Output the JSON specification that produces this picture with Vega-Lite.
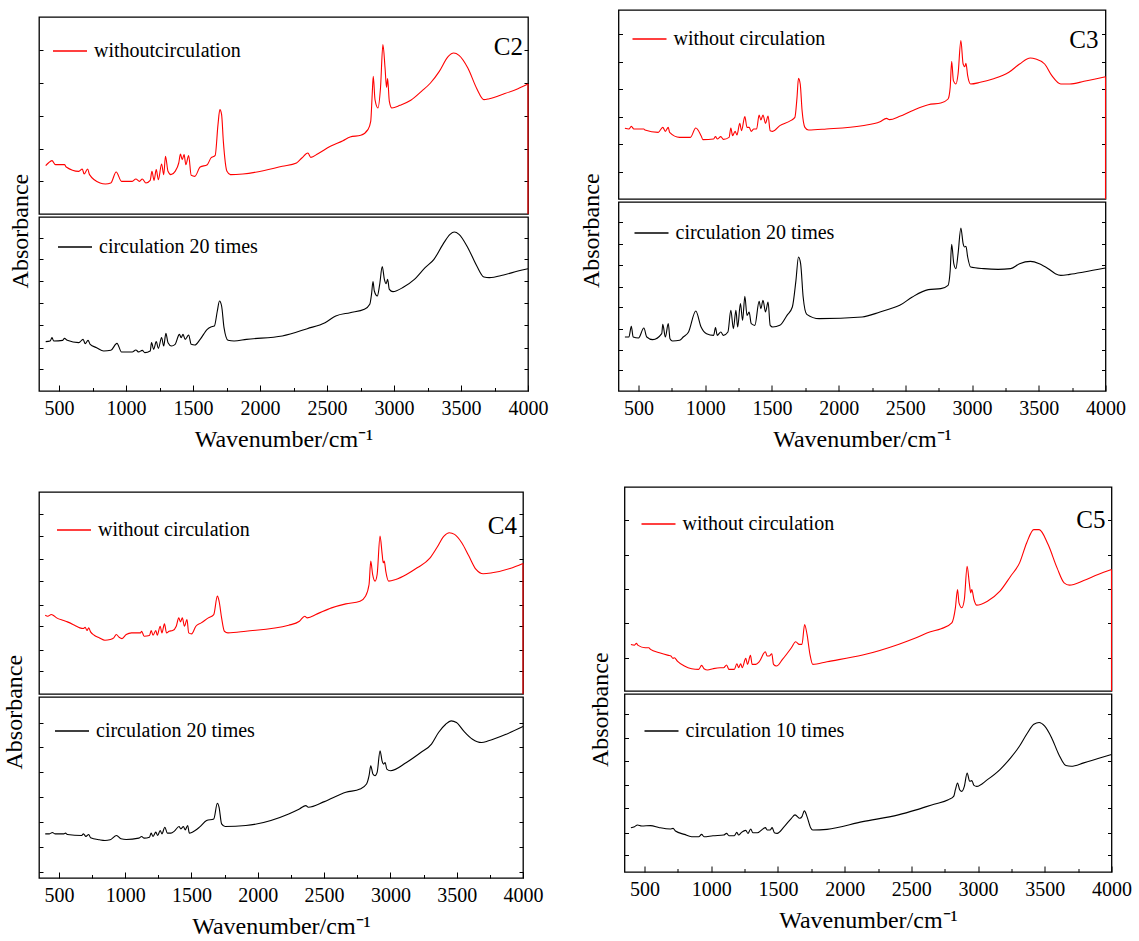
{
  "$schema": "https://vega.github.io/schema/vega-lite/v6.json",
  "background": "white",
  "padding": {"left": 3, "top": 9, "right": 0, "bottom": 0},
  "columns": 1,
  "align": "none",
  "spacing": 32,
  "resolve": {"scale": {"x": "independent", "y": "independent", "color": "independent"}, "legend": {"color": "independent"}, "axis": {"x": "independent", "y": "independent"}},
  "datasets": {
    "c2r": [{"x":400,"y":0.145},{"x":420,"y":0.153},{"x":447,"y":0.160},{"x":473,"y":0.148},{"x":540,"y":0.148},{"x":553,"y":0.141},{"x":647,"y":0.128},{"x":673,"y":0.135},{"x":687,"y":0.120},{"x":713,"y":0.135},{"x":727,"y":0.118},{"x":806,"y":0.093},{"x":846,"y":0.090},{"x":886,"y":0.093},{"x":926,"y":0.126},{"x":966,"y":0.098},{"x":1046,"y":0.098},{"x":1073,"y":0.105},{"x":1100,"y":0.098},{"x":1121,"y":0.105},{"x":1148,"y":0.093},{"x":1180,"y":0.101},{"x":1193,"y":0.128},{"x":1209,"y":0.101},{"x":1225,"y":0.133},{"x":1241,"y":0.103},{"x":1265,"y":0.150},{"x":1281,"y":0.118},{"x":1294,"y":0.173},{"x":1313,"y":0.128},{"x":1334,"y":0.118},{"x":1366,"y":0.128},{"x":1393,"y":0.153},{"x":1406,"y":0.180},{"x":1419,"y":0.163},{"x":1433,"y":0.178},{"x":1446,"y":0.148},{"x":1467,"y":0.175},{"x":1486,"y":0.116},{"x":1513,"y":0.113},{"x":1553,"y":0.141},{"x":1606,"y":0.148},{"x":1633,"y":0.168},{"x":1665,"y":0.176},{"x":1686,"y":0.268},{"x":1700,"y":0.313},{"x":1713,"y":0.298},{"x":1726,"y":0.218},{"x":1753,"y":0.128},{"x":1779,"y":0.118},{"x":1872,"y":0.120},{"x":2166,"y":0.143},{"x":2272,"y":0.153},{"x":2312,"y":0.168},{"x":2357,"y":0.183},{"x":2379,"y":0.170},{"x":2432,"y":0.181},{"x":2525,"y":0.203},{"x":2619,"y":0.220},{"x":2672,"y":0.231},{"x":2752,"y":0.236},{"x":2805,"y":0.253},{"x":2826,"y":0.278},{"x":2837,"y":0.358},{"x":2845,"y":0.413},{"x":2858,"y":0.343},{"x":2880,"y":0.318},{"x":2899,"y":0.378},{"x":2917,"y":0.508},{"x":2933,"y":0.438},{"x":2944,"y":0.380},{"x":2952,"y":0.406},{"x":2965,"y":0.338},{"x":2984,"y":0.318},{"x":3045,"y":0.326},{"x":3125,"y":0.341},{"x":3205,"y":0.368},{"x":3272,"y":0.393},{"x":3338,"y":0.428},{"x":3405,"y":0.473},{"x":3445,"y":0.483},{"x":3485,"y":0.476},{"x":3551,"y":0.438},{"x":3618,"y":0.376},{"x":3671,"y":0.343},{"x":3711,"y":0.346},{"x":3818,"y":0.360},{"x":3925,"y":0.376},{"x":4000,"y":0.390}],
    "c2b": [{"x":400,"y":0.148},{"x":433,"y":0.150},{"x":447,"y":0.160},{"x":460,"y":0.150},{"x":527,"y":0.152},{"x":540,"y":0.158},{"x":561,"y":0.152},{"x":647,"y":0.145},{"x":679,"y":0.155},{"x":695,"y":0.142},{"x":716,"y":0.152},{"x":732,"y":0.140},{"x":780,"y":0.130},{"x":833,"y":0.120},{"x":886,"y":0.122},{"x":932,"y":0.143},{"x":966,"y":0.117},{"x":1046,"y":0.117},{"x":1073,"y":0.123},{"x":1094,"y":0.117},{"x":1121,"y":0.122},{"x":1140,"y":0.115},{"x":1180,"y":0.120},{"x":1190,"y":0.145},{"x":1206,"y":0.125},{"x":1225,"y":0.148},{"x":1241,"y":0.128},{"x":1265,"y":0.160},{"x":1281,"y":0.135},{"x":1297,"y":0.173},{"x":1313,"y":0.145},{"x":1339,"y":0.135},{"x":1366,"y":0.140},{"x":1398,"y":0.170},{"x":1411,"y":0.160},{"x":1425,"y":0.170},{"x":1441,"y":0.155},{"x":1467,"y":0.168},{"x":1486,"y":0.140},{"x":1513,"y":0.138},{"x":1553,"y":0.155},{"x":1606,"y":0.185},{"x":1633,"y":0.192},{"x":1659,"y":0.195},{"x":1681,"y":0.240},{"x":1697,"y":0.270},{"x":1713,"y":0.255},{"x":1731,"y":0.190},{"x":1761,"y":0.152},{"x":1806,"y":0.150},{"x":1899,"y":0.155},{"x":2166,"y":0.165},{"x":2352,"y":0.187},{"x":2485,"y":0.205},{"x":2565,"y":0.225},{"x":2672,"y":0.235},{"x":2779,"y":0.245},{"x":2819,"y":0.260},{"x":2832,"y":0.290},{"x":2843,"y":0.328},{"x":2853,"y":0.300},{"x":2875,"y":0.285},{"x":2893,"y":0.320},{"x":2912,"y":0.373},{"x":2928,"y":0.335},{"x":2941,"y":0.322},{"x":2952,"y":0.335},{"x":2965,"y":0.305},{"x":2992,"y":0.298},{"x":3072,"y":0.312},{"x":3152,"y":0.335},{"x":3232,"y":0.370},{"x":3298,"y":0.395},{"x":3365,"y":0.440},{"x":3418,"y":0.470},{"x":3450,"y":0.477},{"x":3485,"y":0.470},{"x":3551,"y":0.430},{"x":3618,"y":0.375},{"x":3671,"y":0.342},{"x":3711,"y":0.340},{"x":3818,"y":0.348},{"x":3925,"y":0.360},{"x":4000,"y":0.367}],
    "c3r": [{"x":398,"y":0.212},{"x":428,"y":0.210},{"x":446,"y":0.218},{"x":465,"y":0.210},{"x":540,"y":0.210},{"x":548,"y":0.207},{"x":648,"y":0.200},{"x":682,"y":0.215},{"x":701,"y":0.203},{"x":723,"y":0.215},{"x":733,"y":0.200},{"x":808,"y":0.185},{"x":889,"y":0.185},{"x":929,"y":0.213},{"x":969,"y":0.190},{"x":983,"y":0.178},{"x":1063,"y":0.180},{"x":1077,"y":0.187},{"x":1090,"y":0.180},{"x":1117,"y":0.187},{"x":1136,"y":0.179},{"x":1179,"y":0.185},{"x":1192,"y":0.213},{"x":1205,"y":0.190},{"x":1224,"y":0.203},{"x":1238,"y":0.192},{"x":1259,"y":0.227},{"x":1272,"y":0.205},{"x":1297,"y":0.247},{"x":1313,"y":0.215},{"x":1329,"y":0.215},{"x":1345,"y":0.203},{"x":1364,"y":0.210},{"x":1385,"y":0.210},{"x":1404,"y":0.252},{"x":1417,"y":0.237},{"x":1433,"y":0.252},{"x":1452,"y":0.227},{"x":1471,"y":0.249},{"x":1487,"y":0.205},{"x":1506,"y":0.203},{"x":1559,"y":0.220},{"x":1640,"y":0.235},{"x":1672,"y":0.245},{"x":1688,"y":0.305},{"x":1699,"y":0.362},{"x":1712,"y":0.345},{"x":1726,"y":0.265},{"x":1747,"y":0.215},{"x":1774,"y":0.207},{"x":1908,"y":0.210},{"x":2176,"y":0.220},{"x":2310,"y":0.232},{"x":2359,"y":0.242},{"x":2380,"y":0.238},{"x":2458,"y":0.248},{"x":2552,"y":0.265},{"x":2672,"y":0.283},{"x":2766,"y":0.288},{"x":2820,"y":0.300},{"x":2836,"y":0.335},{"x":2847,"y":0.413},{"x":2860,"y":0.355},{"x":2879,"y":0.345},{"x":2895,"y":0.375},{"x":2916,"y":0.475},{"x":2933,"y":0.405},{"x":2946,"y":0.397},{"x":2954,"y":0.407},{"x":2967,"y":0.370},{"x":2989,"y":0.345},{"x":3061,"y":0.350},{"x":3155,"y":0.360},{"x":3276,"y":0.380},{"x":3356,"y":0.405},{"x":3437,"y":0.423},{"x":3477,"y":0.420},{"x":3544,"y":0.405},{"x":3598,"y":0.370},{"x":3665,"y":0.345},{"x":3732,"y":0.345},{"x":3839,"y":0.353},{"x":4000,"y":0.367}],
    "c3b": [{"x":398,"y":0.162},{"x":428,"y":0.162},{"x":446,"y":0.194},{"x":460,"y":0.162},{"x":500,"y":0.159},{"x":540,"y":0.189},{"x":562,"y":0.162},{"x":607,"y":0.154},{"x":674,"y":0.172},{"x":682,"y":0.200},{"x":701,"y":0.162},{"x":723,"y":0.202},{"x":736,"y":0.157},{"x":755,"y":0.150},{"x":808,"y":0.152},{"x":835,"y":0.162},{"x":875,"y":0.177},{"x":929,"y":0.240},{"x":969,"y":0.192},{"x":1010,"y":0.172},{"x":1063,"y":0.167},{"x":1077,"y":0.190},{"x":1090,"y":0.167},{"x":1117,"y":0.177},{"x":1136,"y":0.167},{"x":1170,"y":0.177},{"x":1192,"y":0.242},{"x":1211,"y":0.187},{"x":1230,"y":0.242},{"x":1243,"y":0.192},{"x":1264,"y":0.262},{"x":1280,"y":0.212},{"x":1297,"y":0.284},{"x":1313,"y":0.227},{"x":1329,"y":0.237},{"x":1345,"y":0.202},{"x":1372,"y":0.197},{"x":1404,"y":0.269},{"x":1417,"y":0.247},{"x":1433,"y":0.272},{"x":1452,"y":0.237},{"x":1471,"y":0.267},{"x":1487,"y":0.197},{"x":1506,"y":0.192},{"x":1559,"y":0.197},{"x":1613,"y":0.227},{"x":1653,"y":0.252},{"x":1680,"y":0.332},{"x":1699,"y":0.402},{"x":1715,"y":0.382},{"x":1734,"y":0.282},{"x":1761,"y":0.230},{"x":1854,"y":0.217},{"x":2176,"y":0.222},{"x":2310,"y":0.237},{"x":2364,"y":0.244},{"x":2458,"y":0.257},{"x":2552,"y":0.282},{"x":2672,"y":0.304},{"x":2766,"y":0.307},{"x":2820,"y":0.317},{"x":2836,"y":0.362},{"x":2847,"y":0.440},{"x":2863,"y":0.382},{"x":2879,"y":0.367},{"x":2895,"y":0.412},{"x":2916,"y":0.489},{"x":2933,"y":0.442},{"x":2943,"y":0.432},{"x":2954,"y":0.434},{"x":2967,"y":0.402},{"x":2989,"y":0.372},{"x":3088,"y":0.367},{"x":3195,"y":0.365},{"x":3289,"y":0.367},{"x":3356,"y":0.382},{"x":3437,"y":0.389},{"x":3504,"y":0.382},{"x":3571,"y":0.367},{"x":3624,"y":0.352},{"x":3665,"y":0.347},{"x":3732,"y":0.350},{"x":3839,"y":0.357},{"x":4000,"y":0.369}],
    "c4r": [{"x":397,"y":0.236},{"x":416,"y":0.233},{"x":443,"y":0.238},{"x":456,"y":0.236},{"x":483,"y":0.228},{"x":537,"y":0.220},{"x":564,"y":0.216},{"x":618,"y":0.206},{"x":658,"y":0.198},{"x":685,"y":0.196},{"x":698,"y":0.200},{"x":712,"y":0.190},{"x":725,"y":0.198},{"x":739,"y":0.186},{"x":766,"y":0.176},{"x":806,"y":0.168},{"x":847,"y":0.161},{"x":887,"y":0.163},{"x":914,"y":0.168},{"x":933,"y":0.178},{"x":954,"y":0.170},{"x":976,"y":0.166},{"x":1008,"y":0.178},{"x":1048,"y":0.183},{"x":1116,"y":0.183},{"x":1124,"y":0.188},{"x":1143,"y":0.173},{"x":1183,"y":0.175},{"x":1196,"y":0.190},{"x":1210,"y":0.176},{"x":1231,"y":0.190},{"x":1242,"y":0.176},{"x":1264,"y":0.203},{"x":1277,"y":0.183},{"x":1296,"y":0.210},{"x":1312,"y":0.183},{"x":1331,"y":0.188},{"x":1358,"y":0.190},{"x":1385,"y":0.203},{"x":1404,"y":0.228},{"x":1417,"y":0.216},{"x":1431,"y":0.228},{"x":1447,"y":0.203},{"x":1466,"y":0.223},{"x":1479,"y":0.183},{"x":1501,"y":0.180},{"x":1533,"y":0.203},{"x":1573,"y":0.213},{"x":1627,"y":0.228},{"x":1668,"y":0.238},{"x":1695,"y":0.293},{"x":1708,"y":0.278},{"x":1727,"y":0.228},{"x":1748,"y":0.188},{"x":1775,"y":0.183},{"x":1910,"y":0.188},{"x":2233,"y":0.206},{"x":2314,"y":0.218},{"x":2354,"y":0.233},{"x":2373,"y":0.228},{"x":2448,"y":0.240},{"x":2556,"y":0.258},{"x":2664,"y":0.270},{"x":2771,"y":0.278},{"x":2812,"y":0.293},{"x":2839,"y":0.328},{"x":2852,"y":0.398},{"x":2866,"y":0.358},{"x":2884,"y":0.338},{"x":2900,"y":0.358},{"x":2922,"y":0.473},{"x":2938,"y":0.418},{"x":2946,"y":0.393},{"x":2954,"y":0.398},{"x":2965,"y":0.368},{"x":2987,"y":0.338},{"x":3040,"y":0.343},{"x":3121,"y":0.358},{"x":3202,"y":0.378},{"x":3296,"y":0.406},{"x":3350,"y":0.438},{"x":3404,"y":0.473},{"x":3444,"y":0.483},{"x":3484,"y":0.478},{"x":3538,"y":0.453},{"x":3592,"y":0.413},{"x":3646,"y":0.373},{"x":3700,"y":0.360},{"x":3767,"y":0.363},{"x":3902,"y":0.376},{"x":4000,"y":0.391}],
    "c4b": [{"x":397,"y":0.133},{"x":429,"y":0.133},{"x":451,"y":0.137},{"x":470,"y":0.133},{"x":537,"y":0.133},{"x":550,"y":0.135},{"x":564,"y":0.131},{"x":672,"y":0.128},{"x":685,"y":0.133},{"x":704,"y":0.125},{"x":725,"y":0.131},{"x":739,"y":0.121},{"x":806,"y":0.115},{"x":847,"y":0.113},{"x":887,"y":0.115},{"x":935,"y":0.128},{"x":968,"y":0.118},{"x":1008,"y":0.116},{"x":1102,"y":0.120},{"x":1124,"y":0.125},{"x":1143,"y":0.120},{"x":1183,"y":0.123},{"x":1196,"y":0.135},{"x":1210,"y":0.125},{"x":1231,"y":0.138},{"x":1245,"y":0.128},{"x":1264,"y":0.143},{"x":1277,"y":0.133},{"x":1299,"y":0.153},{"x":1318,"y":0.135},{"x":1345,"y":0.135},{"x":1371,"y":0.141},{"x":1406,"y":0.155},{"x":1420,"y":0.148},{"x":1439,"y":0.155},{"x":1452,"y":0.145},{"x":1471,"y":0.158},{"x":1484,"y":0.135},{"x":1506,"y":0.138},{"x":1560,"y":0.153},{"x":1614,"y":0.173},{"x":1668,"y":0.178},{"x":1695,"y":0.225},{"x":1708,"y":0.213},{"x":1727,"y":0.163},{"x":1754,"y":0.155},{"x":1910,"y":0.158},{"x":2233,"y":0.193},{"x":2314,"y":0.208},{"x":2362,"y":0.218},{"x":2381,"y":0.213},{"x":2502,"y":0.230},{"x":2664,"y":0.258},{"x":2771,"y":0.268},{"x":2820,"y":0.283},{"x":2839,"y":0.308},{"x":2852,"y":0.338},{"x":2868,"y":0.313},{"x":2884,"y":0.308},{"x":2900,"y":0.318},{"x":2922,"y":0.383},{"x":2938,"y":0.351},{"x":2949,"y":0.343},{"x":2960,"y":0.348},{"x":2973,"y":0.328},{"x":3000,"y":0.323},{"x":3121,"y":0.348},{"x":3229,"y":0.378},{"x":3310,"y":0.403},{"x":3363,"y":0.438},{"x":3417,"y":0.463},{"x":3458,"y":0.473},{"x":3498,"y":0.468},{"x":3552,"y":0.443},{"x":3619,"y":0.418},{"x":3687,"y":0.408},{"x":3740,"y":0.413},{"x":3875,"y":0.433},{"x":4000,"y":0.456}],
    "c5r": [{"x":398,"y":0.140},{"x":425,"y":0.138},{"x":439,"y":0.143},{"x":452,"y":0.137},{"x":505,"y":0.130},{"x":532,"y":0.130},{"x":545,"y":0.125},{"x":612,"y":0.115},{"x":679,"y":0.107},{"x":698,"y":0.105},{"x":714,"y":0.098},{"x":724,"y":0.100},{"x":746,"y":0.090},{"x":799,"y":0.075},{"x":853,"y":0.067},{"x":906,"y":0.065},{"x":928,"y":0.077},{"x":946,"y":0.067},{"x":973,"y":0.063},{"x":1013,"y":0.067},{"x":1066,"y":0.070},{"x":1093,"y":0.070},{"x":1115,"y":0.078},{"x":1133,"y":0.065},{"x":1173,"y":0.065},{"x":1192,"y":0.082},{"x":1205,"y":0.070},{"x":1221,"y":0.082},{"x":1232,"y":0.070},{"x":1259,"y":0.098},{"x":1272,"y":0.080},{"x":1294,"y":0.107},{"x":1307,"y":0.080},{"x":1334,"y":0.080},{"x":1360,"y":0.088},{"x":1406,"y":0.118},{"x":1419,"y":0.105},{"x":1435,"y":0.105},{"x":1454,"y":0.112},{"x":1467,"y":0.080},{"x":1489,"y":0.075},{"x":1534,"y":0.095},{"x":1601,"y":0.130},{"x":1633,"y":0.148},{"x":1660,"y":0.140},{"x":1680,"y":0.140},{"x":1700,"y":0.200},{"x":1718,"y":0.170},{"x":1740,"y":0.110},{"x":1761,"y":0.080},{"x":1868,"y":0.088},{"x":2135,"y":0.108},{"x":2402,"y":0.140},{"x":2536,"y":0.160},{"x":2643,"y":0.178},{"x":2723,"y":0.187},{"x":2803,"y":0.205},{"x":2830,"y":0.250},{"x":2846,"y":0.305},{"x":2857,"y":0.265},{"x":2878,"y":0.250},{"x":2897,"y":0.275},{"x":2918,"y":0.375},{"x":2934,"y":0.325},{"x":2945,"y":0.295},{"x":2953,"y":0.305},{"x":2969,"y":0.275},{"x":2990,"y":0.258},{"x":3070,"y":0.270},{"x":3164,"y":0.300},{"x":3244,"y":0.345},{"x":3311,"y":0.385},{"x":3364,"y":0.445},{"x":3418,"y":0.485},{"x":3458,"y":0.485},{"x":3525,"y":0.440},{"x":3592,"y":0.370},{"x":3645,"y":0.325},{"x":3685,"y":0.318},{"x":3792,"y":0.332},{"x":3899,"y":0.350},{"x":4000,"y":0.365}],
    "c5b": [{"x":398,"y":0.132},{"x":425,"y":0.135},{"x":447,"y":0.140},{"x":479,"y":0.137},{"x":545,"y":0.138},{"x":612,"y":0.132},{"x":692,"y":0.128},{"x":714,"y":0.130},{"x":732,"y":0.122},{"x":799,"y":0.112},{"x":853,"y":0.105},{"x":906,"y":0.105},{"x":928,"y":0.112},{"x":946,"y":0.105},{"x":1013,"y":0.108},{"x":1093,"y":0.110},{"x":1115,"y":0.115},{"x":1133,"y":0.108},{"x":1173,"y":0.108},{"x":1192,"y":0.118},{"x":1205,"y":0.110},{"x":1227,"y":0.118},{"x":1259,"y":0.124},{"x":1275,"y":0.115},{"x":1296,"y":0.128},{"x":1312,"y":0.117},{"x":1347,"y":0.117},{"x":1406,"y":0.132},{"x":1419,"y":0.125},{"x":1441,"y":0.125},{"x":1457,"y":0.132},{"x":1473,"y":0.117},{"x":1494,"y":0.115},{"x":1547,"y":0.135},{"x":1601,"y":0.160},{"x":1628,"y":0.170},{"x":1664,"y":0.160},{"x":1680,"y":0.165},{"x":1698,"y":0.182},{"x":1718,"y":0.165},{"x":1745,"y":0.132},{"x":1761,"y":0.125},{"x":1868,"y":0.127},{"x":2135,"y":0.150},{"x":2402,"y":0.170},{"x":2536,"y":0.185},{"x":2670,"y":0.202},{"x":2777,"y":0.215},{"x":2817,"y":0.225},{"x":2830,"y":0.245},{"x":2846,"y":0.265},{"x":2862,"y":0.245},{"x":2878,"y":0.240},{"x":2897,"y":0.255},{"x":2918,"y":0.295},{"x":2937,"y":0.270},{"x":2953,"y":0.272},{"x":2969,"y":0.258},{"x":2990,"y":0.255},{"x":3070,"y":0.275},{"x":3164,"y":0.305},{"x":3244,"y":0.340},{"x":3311,"y":0.375},{"x":3364,"y":0.410},{"x":3418,"y":0.440},{"x":3458,"y":0.445},{"x":3498,"y":0.435},{"x":3551,"y":0.400},{"x":3605,"y":0.350},{"x":3658,"y":0.317},{"x":3698,"y":0.315},{"x":3792,"y":0.325},{"x":3899,"y":0.338},{"x":4000,"y":0.350}]
  },
  "concat": [
    {
      "spacing": 30.5,
      "resolve": {"scale": {"x": "independent", "y": "independent", "color": "independent"}, "legend": {"color": "independent"}, "axis": {"x": "independent", "y": "independent"}},
      "hconcat": [
        {
          "title": {"text": "Absorbance", "orient": "left", "anchor": "middle", "offset": 4.5, "fontSize": 24, "font": "Liberation Serif", "fontWeight": "normal", "color": "black"},
          "spacing": 0,
          "resolve": {"scale": {"x": "independent", "y": "independent", "color": "independent"}, "legend": {"color": "independent"}, "axis": {"x": "independent", "y": "independent"}},
          "vconcat": [
            {"width": 489, "height": 6, "data": {"values": [{}]}, "mark": {"type": "point", "opacity": 0}, "view": {"stroke": null}},
            {
              "width": 489, "height": 197,
              "data": {"name": "c2r"},
              "encoding": {"x": {"field": "x", "type": "quantitative", "scale": {"domain": [350, 4000], "nice": false, "zero": false}, "axis": null}},
              "layer": [
                {"mark": {"type": "line", "strokeWidth": 1.1, "interpolate": "monotone"},
                 "encoding": {
                   "y": {"field": "y", "type": "quantitative", "scale": {"domain": [0, 0.591], "nice": false, "zero": false}, "axis": {"orient": "left", "values": [0.098, 0.195, 0.293, 0.393, 0.493], "labels": false, "title": null, "tickSize": -4, "tickColor": "black", "domain": false, "grid": false}},
                   "color": {"datum": "withoutcirculation", "scale": {"domain": ["withoutcirculation"], "range": ["#ff0000"]}, "legend": {"title": null, "orient": "none", "legendX": 13, "legendY": 16, "labelFont": "Liberation Serif", "labelFontSize": 20, "labelColor": "black", "labelLimit": 400, "symbolType": "stroke", "symbolSize": 1156, "symbolStrokeWidth": 1.3, "padding": 0, "labelOffset": 6}}
                 }},
                {"mark": {"type": "line", "strokeOpacity": 0},
                 "encoding": {"y": {"field": "y", "type": "quantitative", "scale": {"domain": [0, 0.591], "nice": false, "zero": false}, "axis": {"orient": "right", "values": [0.098, 0.195, 0.293, 0.393, 0.493], "labels": false, "title": null, "tickSize": -4, "tickColor": "black", "domain": false, "grid": false}}}},
                {"transform": [{"filter": "datum.x >= 4000"}],
                 "mark": {"type": "rule", "color": "#ff0000", "strokeWidth": 1.1},
                 "encoding": {"y": {"field": "y", "type": "quantitative", "axis": null}, "y2": {"datum": 0}}},
                {"transform": [{"filter": "datum.x >= 4000"}],
                 "mark": {"type": "text", "text": "C2", "align": "right", "baseline": "alphabetic", "dx": -5, "dy": 37.5, "fontSize": 25, "font": "Liberation Serif", "color": "black"},
                 "encoding": {"y": {"datum": 0.591, "type": "quantitative", "axis": null}}}
              ],
              "resolve": {"axis": {"y": "independent"}}
            },
            {
              "width": 489, "height": 174,
              "data": {"name": "c2b"},
              "encoding": {"x": {"field": "x", "type": "quantitative", "scale": {"domain": [350, 4000], "nice": false, "zero": false},
                "axis": {"values": [500,750,1000,1250,1500,1750,2000,2250,2500,2750,3000,3250,3500,3750,4000], "format": "d", "labelExpr": "datum.value % 500 === 0 ? datum.label : ''", "labelFont": "Liberation Serif", "labelFontSize": 20, "labelColor": "black", "labelPadding": 13, "labelFlush": false, "labelOverlap": false, "tickColor": "black", "domain": false, "grid": false, "tickSize": {"condition": {"test": "datum.value % 500 === 0", "value": -6}, "value": -3.5}, "title": "Wavenumber/cm⁻¹", "titleFont": "Liberation Serif", "titleFontSize": 24, "titleFontWeight": "normal", "titleColor": "black", "titlePadding": 7}}},
              "layer": [
                {"mark": {"type": "line", "strokeWidth": 1.1, "interpolate": "monotone"},
                 "encoding": {
                   "y": {"field": "y", "type": "quantitative", "scale": {"domain": [0, 0.522], "nice": false, "zero": false}, "axis": {"orient": "left", "values": [0.065, 0.130, 0.197, 0.265, 0.330, 0.395, 0.460], "labels": false, "title": null, "tickSize": -4, "tickColor": "black", "domain": false, "grid": false}},
                   "color": {"datum": "circulation 20 times", "scale": {"domain": ["circulation 20 times"], "range": ["#000000"]}, "legend": {"title": null, "orient": "none", "legendX": 18, "legendY": 12, "labelFont": "Liberation Serif", "labelFontSize": 20, "labelColor": "black", "labelLimit": 400, "symbolType": "stroke", "symbolSize": 1156, "symbolStrokeWidth": 1.3, "padding": 0, "labelOffset": 6}}
                 }},
                {"mark": {"type": "line", "strokeOpacity": 0},
                 "encoding": {"y": {"field": "y", "type": "quantitative", "scale": {"domain": [0, 0.522], "nice": false, "zero": false}, "axis": {"orient": "right", "values": [0.065, 0.130, 0.197, 0.265, 0.330, 0.395, 0.460], "labels": false, "title": null, "tickSize": -4, "tickColor": "black", "domain": false, "grid": false}}}}
              ],
              "resolve": {"axis": {"y": "independent"}}
            }
          ]
        },
        {
          "title": {"text": "Absorbance", "orient": "left", "anchor": "middle", "offset": 13, "fontSize": 24, "font": "Liberation Serif", "fontWeight": "normal", "color": "black"},
          "spacing": 0,
          "resolve": {"scale": {"x": "independent", "y": "independent", "color": "independent"}, "legend": {"color": "independent"}, "axis": {"x": "independent", "y": "independent"}},
          "vconcat": [
            {
              "width": 487, "height": 189,
              "data": {"name": "c3r"},
              "encoding": {"x": {"field": "x", "type": "quantitative", "scale": {"domain": [350, 4000], "nice": false, "zero": false}, "axis": null}},
              "layer": [
                {"mark": {"type": "line", "strokeWidth": 1.1, "interpolate": "monotone"},
                 "encoding": {
                   "y": {"field": "y", "type": "quantitative", "scale": {"domain": [0, 0.567], "nice": false, "zero": false}, "axis": {"orient": "left", "values": [0.080, 0.165, 0.245, 0.330, 0.410, 0.495], "labels": false, "title": null, "tickSize": -4, "tickColor": "black", "domain": false, "grid": false}},
                   "color": {"datum": "without circulation", "scale": {"domain": ["without circulation"], "range": ["#ff0000"]}, "legend": {"title": null, "orient": "none", "legendX": 13, "legendY": 11, "labelFont": "Liberation Serif", "labelFontSize": 20, "labelColor": "black", "labelLimit": 400, "symbolType": "stroke", "symbolSize": 1156, "symbolStrokeWidth": 1.3, "padding": 0, "labelOffset": 6}}
                 }},
                {"mark": {"type": "line", "strokeOpacity": 0},
                 "encoding": {"y": {"field": "y", "type": "quantitative", "scale": {"domain": [0, 0.567], "nice": false, "zero": false}, "axis": {"orient": "right", "values": [0.080, 0.165, 0.245, 0.330, 0.410, 0.495], "labels": false, "title": null, "tickSize": -4, "tickColor": "black", "domain": false, "grid": false}}}},
                {"transform": [{"filter": "datum.x >= 4000"}],
                 "mark": {"type": "rule", "color": "#ff0000", "strokeWidth": 1.1},
                 "encoding": {"y": {"field": "y", "type": "quantitative", "axis": null}, "y2": {"datum": 0}}},
                {"transform": [{"filter": "datum.x >= 4000"}],
                 "mark": {"type": "text", "text": "C3", "align": "right", "baseline": "alphabetic", "dx": -7, "dy": 38, "fontSize": 25, "font": "Liberation Serif", "color": "black"},
                 "encoding": {"y": {"datum": 0.567, "type": "quantitative", "axis": null}}}
              ],
              "resolve": {"axis": {"y": "independent"}}
            },
            {
              "width": 487, "height": 189,
              "data": {"name": "c3b"},
              "encoding": {"x": {"field": "x", "type": "quantitative", "scale": {"domain": [350, 4000], "nice": false, "zero": false},
                "axis": {"values": [500,750,1000,1250,1500,1750,2000,2250,2500,2750,3000,3250,3500,3750,4000], "format": "d", "labelExpr": "datum.value % 500 === 0 ? datum.label : ''", "labelFont": "Liberation Serif", "labelFontSize": 20, "labelColor": "black", "labelPadding": 13, "labelFlush": false, "labelOverlap": false, "tickColor": "black", "domain": false, "grid": false, "tickSize": {"condition": {"test": "datum.value % 500 === 0", "value": -6}, "value": -3.5}, "title": "Wavenumber/cm⁻¹", "titleFont": "Liberation Serif", "titleFontSize": 24, "titleFontWeight": "normal", "titleColor": "black", "titlePadding": 7}}},
              "layer": [
                {"mark": {"type": "line", "strokeWidth": 1.1, "interpolate": "monotone"},
                 "encoding": {
                   "y": {"field": "y", "type": "quantitative", "scale": {"domain": [0, 0.567], "nice": false, "zero": false}, "axis": {"orient": "left", "values": [0.062, 0.122, 0.187, 0.252, 0.312, 0.377, 0.442, 0.507], "labels": false, "title": null, "tickSize": -4, "tickColor": "black", "domain": false, "grid": false}},
                   "color": {"datum": "circulation 20 times", "scale": {"domain": ["circulation 20 times"], "range": ["#000000"]}, "legend": {"title": null, "orient": "none", "legendX": 15, "legendY": 13, "labelFont": "Liberation Serif", "labelFontSize": 20, "labelColor": "black", "labelLimit": 400, "symbolType": "stroke", "symbolSize": 1156, "symbolStrokeWidth": 1.3, "padding": 0, "labelOffset": 6}}
                 }},
                {"mark": {"type": "line", "strokeOpacity": 0},
                 "encoding": {"y": {"field": "y", "type": "quantitative", "scale": {"domain": [0, 0.567], "nice": false, "zero": false}, "axis": {"orient": "right", "values": [0.062, 0.122, 0.187, 0.252, 0.312, 0.377, 0.442, 0.507], "labels": false, "title": null, "tickSize": -4, "tickColor": "black", "domain": false, "grid": false}}}}
              ],
              "resolve": {"axis": {"y": "independent"}}
            }
          ]
        }
      ]
    },
    {
      "spacing": 44.5,
      "resolve": {"scale": {"x": "independent", "y": "independent", "color": "independent"}, "legend": {"color": "independent"}, "axis": {"x": "independent", "y": "independent"}},
      "hconcat": [
        {
          "title": {"text": "Absorbance", "orient": "left", "anchor": "middle", "offset": 10.5, "fontSize": 24, "font": "Liberation Serif", "fontWeight": "normal", "color": "black"},
          "spacing": 0,
          "resolve": {"scale": {"x": "independent", "y": "independent", "color": "independent"}, "legend": {"color": "independent"}, "axis": {"x": "independent", "y": "independent"}},
          "vconcat": [
            {"width": 484, "height": 2, "data": {"values": [{}]}, "mark": {"type": "point", "opacity": 0}, "view": {"stroke": null}},
            {
              "width": 484, "height": 202,
              "data": {"name": "c4r"},
              "encoding": {"x": {"field": "x", "type": "quantitative", "scale": {"domain": [350, 4000], "nice": false, "zero": false}, "axis": null}},
              "layer": [
                {"mark": {"type": "line", "strokeWidth": 1.1, "interpolate": "monotone"},
                 "encoding": {
                   "y": {"field": "y", "type": "quantitative", "scale": {"domain": [0, 0.605], "nice": false, "zero": false}, "axis": {"orient": "left", "values": [0.068, 0.133, 0.203, 0.268, 0.338, 0.403, 0.473, 0.538], "labels": false, "title": null, "tickSize": -4, "tickColor": "black", "domain": false, "grid": false}},
                   "color": {"datum": "without circulation", "scale": {"domain": ["without circulation"], "range": ["#ff0000"]}, "legend": {"title": null, "orient": "none", "legendX": 17, "legendY": 20, "labelFont": "Liberation Serif", "labelFontSize": 20, "labelColor": "black", "labelLimit": 400, "symbolType": "stroke", "symbolSize": 1156, "symbolStrokeWidth": 1.3, "padding": 0, "labelOffset": 6}}
                 }},
                {"mark": {"type": "line", "strokeOpacity": 0},
                 "encoding": {"y": {"field": "y", "type": "quantitative", "scale": {"domain": [0, 0.605], "nice": false, "zero": false}, "axis": {"orient": "right", "values": [0.068, 0.133, 0.203, 0.268, 0.338, 0.403, 0.473, 0.538], "labels": false, "title": null, "tickSize": -4, "tickColor": "black", "domain": false, "grid": false}}}},
                {"transform": [{"filter": "datum.x >= 4000"}],
                 "mark": {"type": "rule", "color": "#ff0000", "strokeWidth": 1.1},
                 "encoding": {"y": {"field": "y", "type": "quantitative", "axis": null}, "y2": {"datum": 0}}},
                {"transform": [{"filter": "datum.x >= 4000"}],
                 "mark": {"type": "text", "text": "C4", "align": "right", "baseline": "alphabetic", "dx": -6, "dy": 42, "fontSize": 25, "font": "Liberation Serif", "color": "black"},
                 "encoding": {"y": {"datum": 0.605, "type": "quantitative", "axis": null}}}
              ],
              "resolve": {"axis": {"y": "independent"}}
            },
            {
              "width": 484, "height": 181,
              "data": {"name": "c4b"},
              "encoding": {"x": {"field": "x", "type": "quantitative", "scale": {"domain": [350, 4000], "nice": false, "zero": false},
                "axis": {"values": [500,750,1000,1250,1500,1750,2000,2250,2500,2750,3000,3250,3500,3750,4000], "format": "d", "labelExpr": "datum.value % 500 === 0 ? datum.label : ''", "labelFont": "Liberation Serif", "labelFontSize": 20, "labelColor": "black", "labelPadding": 13, "labelFlush": false, "labelOverlap": false, "tickColor": "black", "domain": false, "grid": false, "tickSize": {"condition": {"test": "datum.value % 500 === 0", "value": -6}, "value": -3.5}, "title": "Wavenumber/cm⁻¹", "titleFont": "Liberation Serif", "titleFontSize": 24, "titleFontWeight": "normal", "titleColor": "black", "titlePadding": 7}}},
              "layer": [
                {"mark": {"type": "line", "strokeWidth": 1.1, "interpolate": "monotone"},
                 "encoding": {
                   "y": {"field": "y", "type": "quantitative", "scale": {"domain": [0, 0.545], "nice": false, "zero": false}, "axis": {"orient": "left", "values": [0.018, 0.093, 0.168, 0.243, 0.318, 0.393, 0.468], "labels": false, "title": null, "tickSize": -4, "tickColor": "black", "domain": false, "grid": false}},
                   "color": {"datum": "circulation 20 times", "scale": {"domain": ["circulation 20 times"], "range": ["#000000"]}, "legend": {"title": null, "orient": "none", "legendX": 15, "legendY": 16, "labelFont": "Liberation Serif", "labelFontSize": 20, "labelColor": "black", "labelLimit": 400, "symbolType": "stroke", "symbolSize": 1156, "symbolStrokeWidth": 1.3, "padding": 0, "labelOffset": 6}}
                 }},
                {"mark": {"type": "line", "strokeOpacity": 0},
                 "encoding": {"y": {"field": "y", "type": "quantitative", "scale": {"domain": [0, 0.545], "nice": false, "zero": false}, "axis": {"orient": "right", "values": [0.018, 0.093, 0.168, 0.243, 0.318, 0.393, 0.468], "labels": false, "title": null, "tickSize": -4, "tickColor": "black", "domain": false, "grid": false}}}}
              ],
              "resolve": {"axis": {"y": "independent"}}
            }
          ]
        },
        {
          "title": {"text": "Absorbance", "orient": "left", "anchor": "middle", "offset": 10, "fontSize": 24, "font": "Liberation Serif", "fontWeight": "normal", "color": "black"},
          "spacing": 0,
          "resolve": {"scale": {"x": "independent", "y": "independent", "color": "independent"}, "legend": {"color": "independent"}, "axis": {"x": "independent", "y": "independent"}},
          "vconcat": [
            {
              "width": 487, "height": 204,
              "data": {"name": "c5r"},
              "encoding": {"x": {"field": "x", "type": "quantitative", "scale": {"domain": [350, 4000], "nice": false, "zero": false}, "axis": null}},
              "layer": [
                {"mark": {"type": "line", "strokeWidth": 1.1, "interpolate": "monotone"},
                 "encoding": {
                   "y": {"field": "y", "type": "quantitative", "scale": {"domain": [0, 0.613], "nice": false, "zero": false}, "axis": {"orient": "left", "values": [0.100, 0.205, 0.305, 0.410, 0.515], "labels": false, "title": null, "tickSize": -4, "tickColor": "black", "domain": false, "grid": false}},
                   "color": {"datum": "without circulation", "scale": {"domain": ["without circulation"], "range": ["#ff0000"]}, "legend": {"title": null, "orient": "none", "legendX": 16, "legendY": 19, "labelFont": "Liberation Serif", "labelFontSize": 20, "labelColor": "black", "labelLimit": 400, "symbolType": "stroke", "symbolSize": 1156, "symbolStrokeWidth": 1.3, "padding": 0, "labelOffset": 6}}
                 }},
                {"mark": {"type": "line", "strokeOpacity": 0},
                 "encoding": {"y": {"field": "y", "type": "quantitative", "scale": {"domain": [0, 0.613], "nice": false, "zero": false}, "axis": {"orient": "right", "values": [0.100, 0.205, 0.305, 0.410, 0.515], "labels": false, "title": null, "tickSize": -4, "tickColor": "black", "domain": false, "grid": false}}}},
                {"transform": [{"filter": "datum.x >= 4000"}],
                 "mark": {"type": "rule", "color": "#ff0000", "strokeWidth": 1.1},
                 "encoding": {"y": {"field": "y", "type": "quantitative", "axis": null}, "y2": {"datum": 0}}},
                {"transform": [{"filter": "datum.x >= 4000"}],
                 "mark": {"type": "text", "text": "C5", "align": "right", "baseline": "alphabetic", "dx": -6, "dy": 41, "fontSize": 25, "font": "Liberation Serif", "color": "black"},
                 "encoding": {"y": {"datum": 0.613, "type": "quantitative", "axis": null}}}
              ],
              "resolve": {"axis": {"y": "independent"}}
            },
            {
              "width": 487, "height": 178,
              "data": {"name": "c5b"},
              "encoding": {"x": {"field": "x", "type": "quantitative", "scale": {"domain": [350, 4000], "nice": false, "zero": false},
                "axis": {"values": [500,750,1000,1250,1500,1750,2000,2250,2500,2750,3000,3250,3500,3750,4000], "format": "d", "labelExpr": "datum.value % 500 === 0 ? datum.label : ''", "labelFont": "Liberation Serif", "labelFontSize": 20, "labelColor": "black", "labelPadding": 13, "labelFlush": false, "labelOverlap": false, "tickColor": "black", "domain": false, "grid": false, "tickSize": {"condition": {"test": "datum.value % 500 === 0", "value": -6}, "value": -3.5}, "title": "Wavenumber/cm⁻¹", "titleFont": "Liberation Serif", "titleFontSize": 24, "titleFontWeight": "normal", "titleColor": "black", "titlePadding": 7}}},
              "layer": [
                {"mark": {"type": "line", "strokeWidth": 1.1, "interpolate": "monotone"},
                 "encoding": {
                   "y": {"field": "y", "type": "quantitative", "scale": {"domain": [0, 0.530], "nice": false, "zero": false}, "axis": {"orient": "left", "values": [0.050, 0.115, 0.190, 0.260, 0.330, 0.400, 0.470], "labels": false, "title": null, "tickSize": -4, "tickColor": "black", "domain": false, "grid": false}},
                   "color": {"datum": "circulation 10 times", "scale": {"domain": ["circulation 10 times"], "range": ["#000000"]}, "legend": {"title": null, "orient": "none", "legendX": 19, "legendY": 19, "labelFont": "Liberation Serif", "labelFontSize": 20, "labelColor": "black", "labelLimit": 400, "symbolType": "stroke", "symbolSize": 1156, "symbolStrokeWidth": 1.3, "padding": 0, "labelOffset": 6}}
                 }},
                {"mark": {"type": "line", "strokeOpacity": 0},
                 "encoding": {"y": {"field": "y", "type": "quantitative", "scale": {"domain": [0, 0.530], "nice": false, "zero": false}, "axis": {"orient": "right", "values": [0.050, 0.115, 0.190, 0.260, 0.330, 0.400, 0.470], "labels": false, "title": null, "tickSize": -4, "tickColor": "black", "domain": false, "grid": false}}}}
              ],
              "resolve": {"axis": {"y": "independent"}}
            }
          ]
        }
      ]
    }
  ],
  "config": {
    "view": {"stroke": "black", "strokeWidth": 1.3},
    "font": "Liberation Serif",
    "axis": {"labelFont": "Liberation Serif", "titleFont": "Liberation Serif", "labelColor": "black", "titleColor": "black", "tickColor": "black", "tickWidth": 1, "domain": false, "grid": false},
    "legend": {"labelFont": "Liberation Serif", "labelFontSize": 20, "labelColor": "black"},
    "title": {"font": "Liberation Serif", "fontWeight": "normal", "color": "black"},
    "text": {"font": "Liberation Serif"}
  }
}
